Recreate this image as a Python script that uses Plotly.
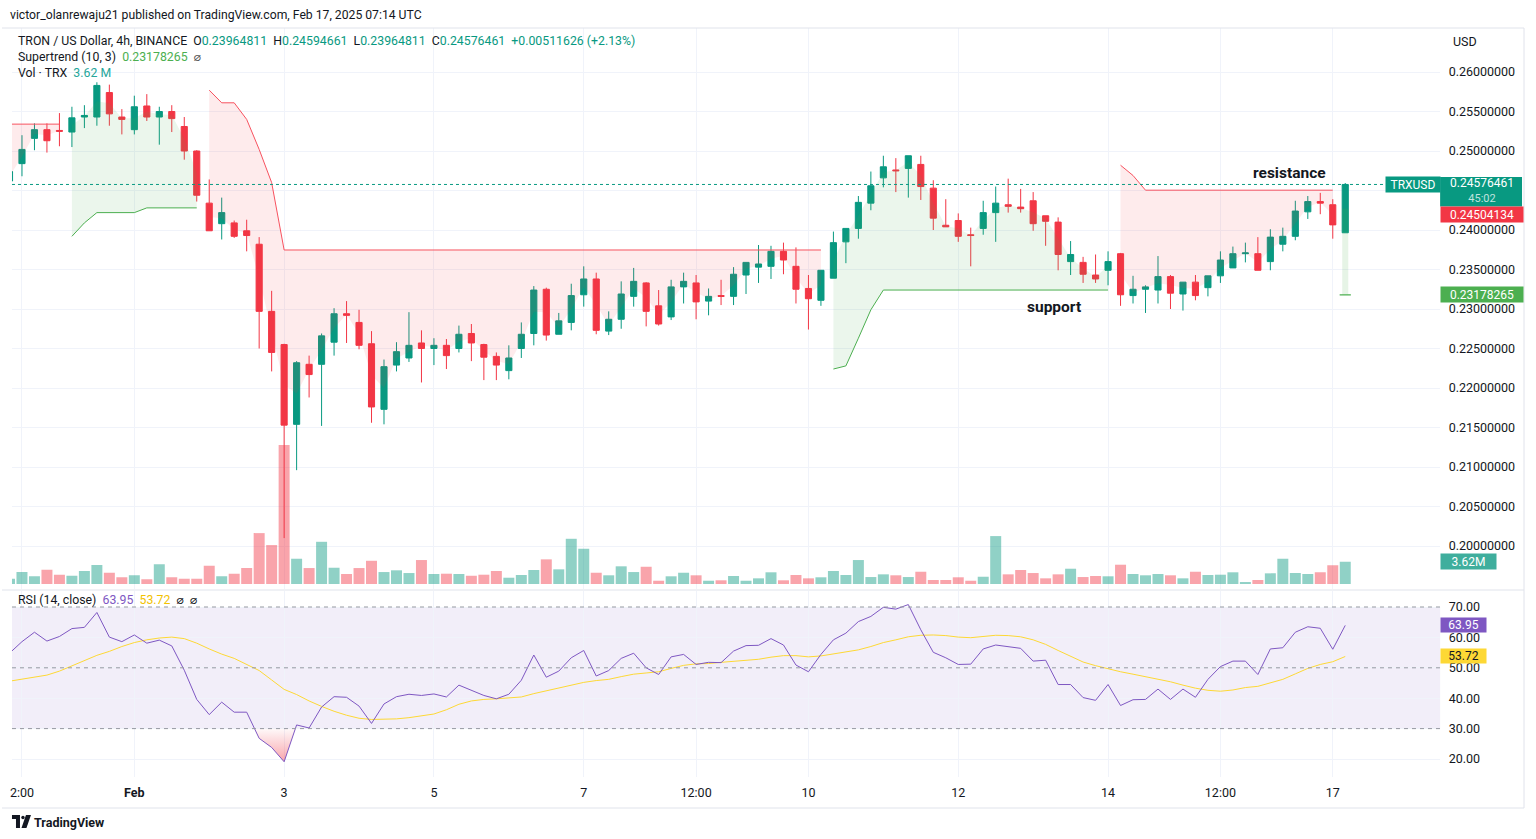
import pandas as pd
import plotly.graph_objects as go

W, H = 1536, 839
N = None

# ---------------- data ----------------
times = pd.date_range("2025-01-30 08:00", periods=108, freq="4h")

opens = [0.2462, 0.2484, 0.2516, 0.2527, 0.2526, 0.2524, 0.2543, 0.2543, 0.2574, 0.2543,
         0.2527, 0.2557, 0.2543, 0.2550, 0.2531, 0.2500, 0.2434, 0.2408, 0.2409, 0.2399,
         0.2382, 0.2297, 0.2255, 0.2154, 0.2230, 0.2230, 0.2258, 0.2294, 0.2283, 0.2256,
         0.2173, 0.2229, 0.2238, 0.2257, 0.2250, 0.2254, 0.2250, 0.2269, 0.2255, 0.2240,
         0.2222, 0.2250, 0.2269, 0.2325, 0.2268, 0.2283, 0.2318, 0.2338, 0.2272, 0.2287,
         0.2316, 0.2333, 0.2304, 0.2290, 0.2328, 0.2333, 0.2310, 0.2317, 0.2316, 0.2343,
         0.2353, 0.2354, 0.2373, 0.2354, 0.2326, 0.2311, 0.2339, 0.2385, 0.2402, 0.2434,
         0.2466, 0.2476, 0.2478, 0.2483, 0.2453, 0.2406, 0.2412, 0.2394, 0.2402, 0.2422,
         0.2432, 0.2429, 0.2437, 0.2418, 0.2410, 0.2360, 0.2359, 0.2343, 0.2349, 0.2370,
         0.2317, 0.2325, 0.2324, 0.2341, 0.2319, 0.2334, 0.2327, 0.2342, 0.2352, 0.2370,
         0.2370, 0.2360, 0.2382, 0.2392, 0.2423, 0.2436, 0.2432, 0.23964811]
highs = [0.2476, 0.2520, 0.2535, 0.2535, 0.2548, 0.2556, 0.2558, 0.2587, 0.2584, 0.2553,
         0.2570, 0.2572, 0.2556, 0.2558, 0.2543, 0.2501, 0.2464, 0.2441, 0.2412, 0.2413,
         0.2391, 0.2323, 0.2256, 0.2234, 0.2241, 0.2269, 0.2301, 0.2310, 0.2299, 0.2272,
         0.2236, 0.2258, 0.2296, 0.2273, 0.2263, 0.2262, 0.2279, 0.2281, 0.2256, 0.2245,
         0.2254, 0.2283, 0.2329, 0.2327, 0.2295, 0.2332, 0.2354, 0.2346, 0.2297, 0.2335,
         0.2352, 0.2334, 0.2324, 0.2337, 0.2346, 0.2343, 0.2326, 0.2337, 0.2353, 0.2359,
         0.2381, 0.2380, 0.2384, 0.2378, 0.2343, 0.2349, 0.2398, 0.2402, 0.2443, 0.2474,
         0.2494, 0.2491, 0.2494, 0.2494, 0.2463, 0.2439, 0.2421, 0.2403, 0.2437, 0.2455,
         0.2465, 0.2452, 0.2448, 0.2418, 0.2416, 0.2386, 0.2366, 0.2369, 0.2373, 0.2371,
         0.2342, 0.2330, 0.2367, 0.2343, 0.2334, 0.2343, 0.2342, 0.2373, 0.2379, 0.2384,
         0.2391, 0.2401, 0.2403, 0.2437, 0.2443, 0.2447, 0.2439, 0.24594661]
lows = [0.2460, 0.2468, 0.2501, 0.2498, 0.2506, 0.2505, 0.2529, 0.2532, 0.2532, 0.2521,
        0.2521, 0.2538, 0.2508, 0.2524, 0.2489, 0.2436, 0.2399, 0.2388, 0.2390, 0.2373,
        0.2250, 0.2221, 0.2010, 0.2096, 0.2188, 0.2152, 0.2241, 0.2257, 0.2249, 0.2156,
        0.2154, 0.2221, 0.2233, 0.2207, 0.2229, 0.2224, 0.2245, 0.2234, 0.2210, 0.2210,
        0.2211, 0.2238, 0.2254, 0.2260, 0.2268, 0.2273, 0.2303, 0.2268, 0.2267, 0.2275,
        0.2303, 0.2278, 0.2279, 0.2286, 0.2307, 0.2287, 0.2292, 0.2305, 0.2305, 0.2319,
        0.2333, 0.2338, 0.2344, 0.2307, 0.2274, 0.2304, 0.2339, 0.2358, 0.2389, 0.2425,
        0.2454, 0.2448, 0.2441, 0.2438, 0.2400, 0.2404, 0.2385, 0.2354, 0.2394, 0.2385,
        0.2422, 0.2422, 0.2399, 0.2380, 0.2349, 0.2343, 0.2333, 0.2333, 0.2330, 0.2304,
        0.2307, 0.2295, 0.2307, 0.2300, 0.2298, 0.2311, 0.2316, 0.2333, 0.2352, 0.2359,
        0.2349, 0.2349, 0.2373, 0.2387, 0.2414, 0.2420, 0.2389, 0.23964811]
closes = [0.2474, 0.2502, 0.2527, 0.2513, 0.2525, 0.2542, 0.2545, 0.2583, 0.2547, 0.2540,
          0.2556, 0.2543, 0.2550, 0.2541, 0.2500, 0.2444, 0.2399, 0.2422, 0.2392, 0.2393,
          0.2297, 0.2245, 0.2153, 0.2232, 0.2217, 0.2266, 0.2294, 0.2292, 0.2254, 0.2176,
          0.2227, 0.2246, 0.2254, 0.2250, 0.2254, 0.2241, 0.2268, 0.2257, 0.2239, 0.2229,
          0.2238, 0.2268, 0.2324, 0.2267, 0.2285, 0.2317, 0.2338, 0.2273, 0.2287, 0.2319,
          0.2335, 0.2297, 0.2281, 0.2328, 0.2335, 0.2309, 0.2316, 0.2316, 0.2344, 0.2359,
          0.2357, 0.2373, 0.2362, 0.2325, 0.2313, 0.2349, 0.2384, 0.2402, 0.2435, 0.2456,
          0.2480, 0.2475, 0.2494, 0.2455, 0.2415, 0.2404, 0.2392, 0.2393, 0.2422, 0.2434,
          0.2430, 0.2427, 0.2408, 0.2411, 0.2369, 0.2369, 0.2344, 0.2338, 0.2360, 0.2318,
          0.2325, 0.2328, 0.2341, 0.2320, 0.2334, 0.2317, 0.2342, 0.2362, 0.2370, 0.2371,
          0.2349, 0.2391, 0.2392, 0.2424, 0.2436, 0.2434, 0.24064835, 0.24576461]
volumes_m = [0.86, 1.95, 1.25, 2.32, 1.51, 1.35, 2.11, 3.08, 1.83, 1.09,
             1.41, 0.76, 3.19, 1.09, 0.86, 0.86, 2.96, 1.25, 1.67, 2.59,
             8.26, 6.32, 22.57, 4.10, 2.59, 6.85, 2.64, 1.62, 2.59, 3.77,
             1.94, 2.22, 1.78, 3.89, 1.62, 1.67, 1.62, 1.34, 1.51, 2.11,
             1.02, 1.46, 2.27, 4.00, 2.38, 7.34, 5.72, 1.83, 1.41, 2.87,
             1.94, 2.80, 0.53, 1.25, 1.83, 1.41, 0.53, 0.60, 1.30, 0.53,
             0.92, 1.90, 0.60, 1.46, 0.92, 1.09, 2.11, 1.46, 3.89, 1.13,
             1.57, 1.41, 1.13, 1.99, 0.65, 0.65, 1.09, 0.53, 1.18, 7.78,
             1.57, 2.27, 1.78, 0.92, 1.57, 2.48, 1.13, 1.30, 1.25, 3.13,
             1.62, 1.41, 1.62, 1.41, 0.92, 1.99, 1.46, 1.51, 1.90, 0.32,
             0.65, 1.73, 4.10, 1.78, 1.62, 1.90, 3.03, 3.62]
supertrend_up = [N, N, N, N, N,
                 0.2392, 0.2409, 0.2422, 0.2422, 0.2422, 0.2422, 0.2428, 0.2428, 0.2428, 0.2428, 0.2428,
                 N, N, N, N, N, N, N, N, N, N, N, N, N, N, N, N, N, N, N, N, N, N, N, N, N,
                 N, N, N, N, N, N, N, N, N, N, N, N, N, N, N, N, N, N, N, N, N, N, N, N, N,
                 0.2224, 0.2228, 0.2263, 0.2299, 0.2324, 0.2324, 0.2324, 0.2324, 0.2324, 0.2324,
                 0.2324, 0.2324, 0.2324, 0.2324, 0.2324, 0.2324, 0.2324, 0.2324, 0.2324, 0.2324,
                 0.2324, 0.2324, 0.2324,
                 N, N, N, N, N, N, N, N, N, N, N, N, N, N, N, N, N, N,
                 0.23178265]
supertrend_down = [0.2534, 0.2534, 0.2534, 0.2534, 0.2534,
                   N, N, N, N, N, N, N, N, N, N, N,
                   0.2577, 0.2561, 0.2561, 0.2540, 0.2502, 0.2460,
                   0.23747, 0.23747, 0.23747, 0.23747, 0.23747, 0.23747, 0.23747, 0.23747, 0.23747, 0.23747,
                   0.23747, 0.23747, 0.23747, 0.23747, 0.23747, 0.23747, 0.23747, 0.23747, 0.23747, 0.23747,
                   0.23747, 0.23747, 0.23747, 0.23747, 0.23747, 0.23747, 0.23747, 0.23747, 0.23747, 0.23747,
                   0.23747, 0.23747, 0.23747, 0.23747, 0.23747, 0.23747, 0.23747, 0.23747, 0.23747, 0.23747,
                   0.23747, 0.23747, 0.23747, 0.23747,
                   N, N, N, N, N, N, N, N, N, N, N, N, N, N, N, N, N, N, N, N, N, N, N,
                   0.2482, 0.2469,
                   0.24504, 0.24504, 0.24504, 0.24504, 0.24504, 0.24504, 0.24504, 0.24504,
                   0.24504, 0.24504, 0.24504, 0.24504, 0.24504, 0.24504, 0.24504, 0.24504,
                   N]
rsi = [54.8, 58.6, 61.7, 58.8, 60.3, 62.9, 63.3, 68.2, 60.1, 58.6,
       60.8, 58.1, 59.1, 57.2, 49.2, 39.6, 34.6, 38.7, 35.4, 35.4,
       26.8, 23.8, 19.1, 31.2, 30.2, 37.1, 40.5, 40.3, 37.4, 31.7,
       38.1, 40.5, 41.3, 40.9, 41.4, 40.4, 44.3, 42.7, 40.9, 39.8,
       41.3, 45.9, 54.2, 46.9, 48.9, 53.3, 55.7, 47.3, 49.1, 53.1,
       54.8, 50.0, 47.8, 53.6, 54.4, 51.1, 51.8, 51.7, 55.5, 57.3,
       57.4, 59.6, 57.5, 50.9, 48.7, 54.4, 59.2, 61.4, 65.2, 66.9,
       69.9, 69.3, 70.8, 62.5, 55.1, 53.3, 51.1, 51.2, 56.2, 57.5,
       57.0, 56.4, 52.2, 52.5, 44.5, 44.5, 40.2, 39.3, 44.5, 37.6,
       39.5, 39.6, 43.0, 39.6, 43.0, 40.3, 46.2, 50.4, 52.2, 52.2,
       47.8, 56.2, 56.6, 61.7, 63.5, 63.0, 56.1, 63.95]
rsi_ma = [45.6, 46.2, 46.9, 47.6, 48.9, 50.7, 52.4, 54.1, 55.4, 57.0,
          58.3, 59.2, 59.8, 60.1, 59.6, 58.1, 56.2, 54.5, 53.1, 51.1,
          49.1, 46.0, 42.9, 41.2, 39.1, 37.3, 35.7, 34.4, 33.4, 33.0,
          33.1, 33.2, 33.6, 34.1, 34.8, 36.2, 38.0, 39.1, 39.6, 39.8,
          40.1, 40.4, 41.5, 42.4, 43.3, 44.3, 45.2, 45.8, 46.2, 47.1,
          47.9, 48.3, 48.7, 49.8, 50.8, 51.3, 51.4, 51.8, 52.1, 52.3,
          52.8, 53.5, 54.0, 54.0, 53.6, 53.9, 54.5, 55.2, 55.9, 57.0,
          58.3, 59.2, 60.2, 60.7, 60.8, 60.6, 60.1, 59.9, 60.4, 60.7,
          60.6, 60.2, 59.2, 57.7, 55.7, 53.8, 51.9, 50.7, 49.6, 48.7,
          47.9, 47.1, 46.4, 45.4, 44.3, 43.3, 42.6, 42.3, 42.7, 43.5,
          43.9, 45.1, 46.2, 48.0, 49.8, 51.1, 52.0, 53.72]
# 0.245 is hidden behind the last-price tags in the reference, so it carries a grid line only
price_ticks = [0.20, 0.205, 0.21, 0.215, 0.22, 0.225, 0.23, 0.235, 0.24, 0.25, 0.255, 0.26]
price_grid_only = [0.245]
rsi_ticks = [20, 30, 40, 50, 60, 70]
time_tick_vals = ["2025-01-30 12:00", "2025-02-01 00:00", "2025-02-03 00:00", "2025-02-05 00:00",
                  "2025-02-07 00:00", "2025-02-08 12:00", "2025-02-10 00:00", "2025-02-12 00:00",
                  "2025-02-14 00:00", "2025-02-15 12:00", "2025-02-17 00:00"]
time_tick_text = ["2:00", "<b>Feb</b>", "3", "5", "7", "12:00", "10", "12", "14", "12:00", "17"]
supertrend_label = 0.24504134
time_left = "45:02"

# ---------------- style ----------------
GREEN = "#089981"
RED = "#F23645"
ST_GREEN = "#4CAF50"
ST_RED = "#F7525F"
PURPLE = "#7E57C2"
YELLOW = "#FDD835"
TEXT = "#131722"
GRID = "#F0F3FA"
BORDER = "#E0E3EB"
FONT = "Roboto, 'DejaVu Sans', sans-serif"
NB = "\u00a0"


def px(x):
    return x / W


def py(y):
    return 1 - y / H


PLOT_L, PLOT_R = 10, 1440
MAIN_TOP, MAIN_BOT = 28, 589
RSI_TOP, RSI_BOT = 591, 777

fig = go.Figure()

# volume (base axis, drawn under price)
vol_colors = ["rgba(8,153,129,0.45)" if c >= o else "rgba(242,54,69,0.45)" for o, c in zip(opens, closes)]
fig.add_trace(go.Bar(x=times, y=volumes_m, marker=dict(color=vol_colors, line=dict(width=0)),
                     width=0.88 * 4 * 3600 * 1000, xaxis="x", yaxis="y", hoverinfo="skip"))

# supertrend with fill to body middle
mid = [(o + c) / 2 for o, c in zip(opens, closes)]


def runs(vals):
    out, cur = [], []
    for i, v in enumerate(vals):
        if v is None:
            if cur:
                out.append(cur)
                cur = []
        else:
            cur.append(i)
    if cur:
        out.append(cur)
    return out


for vals, lc, fc in [(supertrend_up, ST_GREEN, "rgba(76,175,80,0.11)"),
                     (supertrend_down, ST_RED, "rgba(242,54,69,0.10)")]:
    for run in runs(vals):
        tx = [times[i] for i in run]
        if len(run) > 1:
            fig.add_trace(go.Scatter(x=tx, y=[mid[i] for i in run], mode="lines", line=dict(width=0),
                                     xaxis="x", yaxis="y2", hoverinfo="skip"))
            fig.add_trace(go.Scatter(x=tx, y=[vals[i] for i in run], mode="lines",
                                     line=dict(color=lc, width=1), fill="tonexty", fillcolor=fc,
                                     xaxis="x", yaxis="y2", hoverinfo="skip"))
        else:
            i = run[0]
            fig.add_trace(go.Scatter(x=[times[i], times[i]], y=[vals[i], mid[i]], mode="lines",
                                     line=dict(color="rgba(76,175,80,0.14)", width=6),
                                     xaxis="x", yaxis="y2", hoverinfo="skip"))
            fig.add_trace(go.Scatter(x=[times[i]], y=[vals[i]], mode="markers",
                                     marker=dict(symbol="line-ew", size=8, line=dict(color=lc, width=1.2)),
                                     xaxis="x", yaxis="y2", hoverinfo="skip"))

# candles
fig.add_trace(go.Candlestick(x=times, open=opens, high=highs, low=lows, close=closes,
                             increasing=dict(line=dict(color=GREEN, width=1), fillcolor=GREEN),
                             decreasing=dict(line=dict(color=RED, width=1), fillcolor=RED),
                             whiskerwidth=0, xaxis="x", yaxis="y2", hoverinfo="skip"))

# RSI oversold fill
step = pd.Timedelta(hours=4)
i = 0
while i < len(rsi):
    if rsi[i] < 30:
        j = i
        while j + 1 < len(rsi) and rsi[j + 1] < 30:
            j += 1
        xs, ys = [], []
        if i > 0:
            f = (rsi[i - 1] - 30) / (rsi[i - 1] - rsi[i])
            xs.append(times[i - 1] + f * step)
            ys.append(30)
        for k in range(i, j + 1):
            xs.append(times[k])
            ys.append(rsi[k])
        if j + 1 < len(rsi):
            f = (30 - rsi[j]) / (rsi[j + 1] - rsi[j])
            xs.append(times[j] + f * step)
            ys.append(30)
        fig.add_trace(go.Scatter(x=xs, y=ys, mode="lines", line=dict(width=0), fill="toself",
                                 fillgradient=dict(type="vertical",
                                                   colorscale=[[0, "rgba(242,54,69,0.45)"],
                                                               [1, "rgba(242,54,69,0.03)"]]),
                                 xaxis="x2", yaxis="y3", hoverinfo="skip"))
        i = j + 1
    else:
        i += 1

fig.add_trace(go.Scatter(x=times, y=rsi_ma, mode="lines", line=dict(color=YELLOW, width=1),
                         xaxis="x2", yaxis="y3", hoverinfo="skip"))
fig.add_trace(go.Scatter(x=times, y=rsi, mode="lines", line=dict(color=PURPLE, width=1),
                         xaxis="x2", yaxis="y3", hoverinfo="skip"))

# ---------------- axes ----------------
xr = [times[0] + 0.2 * step, times[0] + 114.6 * step]
common_x = dict(type="date", range=xr, tickvals=time_tick_vals, showgrid=True, gridcolor=GRID,
                gridwidth=1, zeroline=False, showline=False, domain=[px(PLOT_L), px(PLOT_R)],
                fixedrange=True)
price_px_per_unit = 7900.0
price_range = [0.26 - (MAIN_BOT - 72) / price_px_per_unit, 0.26 + (72 - MAIN_TOP) / price_px_per_unit]
vol_px_per_m = 6.16
vol_range = [-(MAIN_BOT - 584) / vol_px_per_m, (584 - MAIN_TOP) / vol_px_per_m]
rsi_px_per_unit = 3.04
rsi_range = [20 - (RSI_BOT - 759) / rsi_px_per_unit, 70 + (607 - RSI_TOP) / rsi_px_per_unit]

fig.update_layout(
    width=W, height=H, margin=dict(l=0, r=0, t=0, b=0),
    paper_bgcolor="white", plot_bgcolor="white", showlegend=False,
    font=dict(family=FONT, color=TEXT, size=12),
    xaxis=dict(**common_x, anchor="y", showticklabels=False, rangeslider=dict(visible=False)),
    xaxis2=dict(**common_x, anchor="y3", ticktext=time_tick_text, ticks="outside", ticklen=4,
                tickcolor="rgba(0,0,0,0)", tickfont=dict(size=12.5, color=TEXT, family=FONT)),
    yaxis=dict(domain=[py(MAIN_BOT), py(MAIN_TOP)], range=vol_range, visible=False, fixedrange=True),
    yaxis2=dict(overlaying="y", side="right", anchor="x", range=price_range, tickvals=price_ticks,
                tickformat=".8f", showgrid=True, gridcolor=GRID, zeroline=False, showline=False,
                ticks="outside", ticklen=5, tickcolor="rgba(0,0,0,0)",
                tickfont=dict(size=12.5, color=TEXT, family=FONT), fixedrange=True),
    yaxis3=dict(domain=[py(RSI_BOT), py(RSI_TOP)], range=rsi_range, side="right", anchor="x2",
                tickvals=rsi_ticks, tickformat=".2f", showgrid=True, gridcolor=GRID, zeroline=False,
                showline=False, ticks="outside", ticklen=5, tickcolor="rgba(0,0,0,0)",
                tickfont=dict(size=12.5, color=TEXT, family=FONT), fixedrange=True),
)

shapes = []
for gv in price_grid_only:
    shapes.append(dict(type="line", xref="paper", yref="y2", x0=px(PLOT_L), x1=px(PLOT_R), y0=gv, y1=gv,
                       line=dict(color=GRID, width=1), layer="below"))
# RSI band and level lines
shapes.append(dict(type="rect", xref="paper", yref="y3", x0=px(PLOT_L), x1=px(PLOT_R), y0=30, y1=70,
                   fillcolor="rgba(126,87,194,0.1)", line=dict(width=0), layer="below"))
for lv in (70, 50, 30):
    shapes.append(dict(type="line", xref="paper", yref="y3", x0=px(PLOT_L), x1=px(PLOT_R), y0=lv, y1=lv,
                       line=dict(color="#9598A1", width=1, dash="4px,4px")))
# current price dotted line
shapes.append(dict(type="line", xref="paper", yref="y2", x0=px(PLOT_L), x1=px(1385),
                   y0=closes[-1], y1=closes[-1], line=dict(color=GREEN, width=1, dash="dot")))
# frame / separators
for (x0, y0, x1, y1) in [(0, 28, 1524, 28), (0, 590, 1524, 590), (0, 808, 1524, 808),
                         (1524, 28, 1524, 808)]:
    shapes.append(dict(type="line", xref="paper", yref="paper", x0=px(x0), x1=px(x1), y0=py(y0), y1=py(y1),
                       line=dict(color=BORDER, width=1)))
# TradingView logo
logo1 = f"M {px(10)},{py(815)} L {px(18)},{py(815)} L {px(18)},{py(828)} L {px(14)},{py(828)} L {px(14)},{py(819)} L {px(10)},{py(819)} Z"
logo2 = f"M {px(24)},{py(815)} L {px(29)},{py(815)} L {px(24.5)},{py(828)} L {px(19.5)},{py(828)} Z"
shapes.append(dict(type="path", xref="paper", yref="paper", path=logo1, fillcolor=TEXT, line=dict(width=0)))
shapes.append(dict(type="path", xref="paper", yref="paper", path=logo2, fillcolor=TEXT, line=dict(width=0)))
shapes.append(dict(type="circle", xref="paper", yref="paper", x0=px(19.3), x1=px(22.7), y0=py(819.2), y1=py(815.8),
                   fillcolor=TEXT, line=dict(width=0)))
# background of the two-line last-price tag
shapes.append(dict(type="rect", xref="paper", yref="y2", ysizemode="pixel", yanchor=closes[-1],
                   x0=px(1440), x1=px(1522), y0=-22, y1=7.5, fillcolor=GREEN, line=dict(width=0)))
fig.update_layout(shapes=shapes)

ann = []


def txt(x, y, text, size=12, color=TEXT, anchor="left", **kw):
    ann.append(dict(x=px(x), y=py(y), xref="paper", yref="paper", text=text, showarrow=False,
                    xanchor=anchor, yanchor="middle", font=dict(size=size, color=color, family=FONT), **kw))


chg = closes[-1] - closes[-2]
pct = chg / closes[-2] * 100


def g(v):
    return f"<span style='color:{GREEN}'>{v}</span>"


txt(6, 15, "victor_olanrewaju21 published on TradingView.com, Feb 17, 2025 07:14 UTC", size=12.2)
txt(14, 41, "TRON / US Dollar, 4h, BINANCE" + NB * 2 + "O" + g(f"{opens[-1]:.8f}") + NB * 2 + "H" + g(f"{highs[-1]:.8f}")
    + NB * 2 + "L" + g(f"{lows[-1]:.8f}") + NB * 2 + "C" + g(f"{closes[-1]:.8f}") + NB * 2
    + g(f"{chg:+.8f} ({pct:+.2f}%)"), size=12.3)
txt(14, 57, "Supertrend (10, 3)" + NB * 2 + f"<span style='color:{ST_GREEN}'>{supertrend_up[-1]:.8f}</span>"
    + NB * 2 + "<span style='color:#555'>⌀</span>", size=12.3)
txt(14, 73, "Vol · TRX" + NB * 2 + f"<span style='color:#26A69A'>{volumes_m[-1]:.2f}" + NB + "M</span>", size=12.3)
txt(14, 600, "RSI (14, close)" + NB * 2 + f"<span style='color:{PURPLE}'>{rsi[-1]:.2f}</span>" + NB * 2
    + f"<span style='color:#F2C200'>{rsi_ma[-1]:.2f}</span>" + NB * 2 + "⌀" + NB * 2 + "⌀", size=12.3)
txt(1451, 42, "USD", size=12.5)
txt(1053, 307, "<b>support</b>", size=15.5, anchor="center")
txt(1289, 173, "<b>resistance</b>", size=15.5, anchor="center")
txt(30, 822, "<b>TradingView</b>", size=12.5)


def tag(x_left, width, yref, yval, text, bg, fc="white", height=15, yshift=0, size=12):
    d = dict(x=px(x_left), y=yval, xref="paper", yref=yref, text=text, showarrow=False,
             xanchor="left", yanchor="middle", width=width, align="center",
             bgcolor=bg, borderpad=0, yshift=yshift, font=dict(size=size, color=fc, family=FONT))
    if height:
        d["height"] = height
    ann.append(d)


tag(1385, 54, "y2", closes[-1], "TRXUSD", GREEN)
tag(1440, 82, "y2", closes[-1], f"{closes[-1]:.8f}", "rgba(0,0,0,0)", height=None, yshift=1)
tag(1440, 82, "y2", closes[-1], time_left, "rgba(0,0,0,0)", fc="rgba(255,255,255,0.75)", height=None,
    yshift=-14.5, size=11)
tag(1440, 82, "y2", supertrend_label, f"{supertrend_label:.8f}", RED, yshift=-24.3)
tag(1440, 82, "y2", supertrend_up[-1], f"{supertrend_up[-1]:.8f}", ST_GREEN)
tag(1440, 55, "y", volumes_m[-1], f"{volumes_m[-1]:.2f}M", "#3FAE9D")
tag(1440, 45, "y3", rsi[-1], f"{rsi[-1]:.2f}", PURPLE, height=14)
tag(1440, 45, "y3", rsi_ma[-1], f"{rsi_ma[-1]:.2f}", YELLOW, fc=TEXT, height=14)

fig.update_layout(annotations=ann)
fig.write_html("out.html")
